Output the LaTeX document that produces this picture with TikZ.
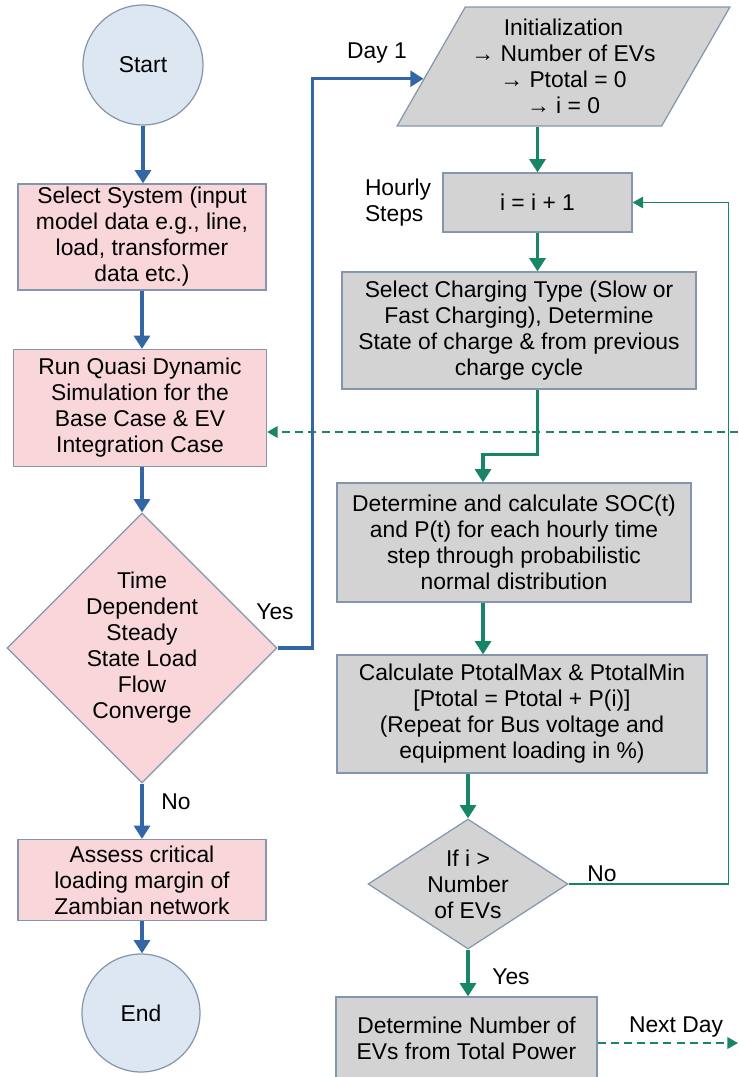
\documentclass[tikz,border=0pt]{standalone}
\usepackage{fontspec}
\setmainfont{Liberation Sans}
\usetikzlibrary{shapes.geometric,arrows.meta}
\definecolor{pinkfill}{HTML}{F8D6DA}
\definecolor{greyfill}{HTML}{D3D3D3}
\definecolor{circfill}{HTML}{DDE7F2}
\definecolor{edgecol}{HTML}{8496AE}
\definecolor{blueline}{HTML}{3465A4}
\definecolor{greenline}{HTML}{188566}

\begin{document}
\begin{tikzpicture}[x=0.02cm,y=-0.02cm,
   font=\fontsize{13}{14.8}\selectfont,
   base/.style={draw=edgecol,line width=0.7pt,align=center,inner sep=0pt},
   pbox/.style={base,rectangle,fill=pinkfill},
   gbox/.style={base,rectangle,fill=greyfill},
   circ/.style={base,circle,fill=circfill},
   pdia/.style={base,diamond,fill=pinkfill},
   gdia/.style={base,diamond,fill=greyfill},
   barr/.style={draw=blueline,line width=1.9pt,-{Triangle[width=9pt,length=7.5pt]}},
   garr/.style={draw=greenline,line width=1.9pt,-{Triangle[width=9pt,length=7.5pt]}},
   gthin/.style={draw=greenline,line width=1pt,-{Triangle[width=6.5pt,length=6pt]}},
   gdash/.style={draw=greenline,line width=1.1pt,dash pattern=on 4.5pt off 3pt,-{Triangle[width=6.5pt,length=6pt]}}]
   \useasboundingbox (0,0) rectangle (738,1077);

   \path (143,65) node[circ,minimum size=2.4cm] (St) {Start};
   \path (142,237) node[pbox,minimum width=4.96cm,minimum height=2.12cm] (Sel)
   {Select System (input\\model data e.g., line,\\load, transformer\\data etc.)};
   \path (140,408) node[pbox,minimum width=5.06cm,minimum height=2.34cm] (Run)
   {Run Quasi Dynamic\\Simulation for the\\Base Case \& EV\\Integration Case};
   \path (142,648) node[pdia,minimum size=5.4cm] (Conv)
   {Time\\Dependent\\Steady\\State Load\\Flow\\Converge};
   \path (142,880) node[pbox,minimum width=4.96cm,minimum height=1.62cm] (Ass)
   {Assess critical\\loading margin of\\Zambian network};
   \path (141,1013) node[circ,minimum size=2.36cm] (En) {End};

   \path (563.5,66.5) node[base,trapezium,trapezium left angle=56,trapezium right angle=124,
     trapezium stretches,fill=greyfill,minimum width=6.66cm,minimum height=2.38cm] (Init)
   {Initialization\\→ Number of EVs\\→ Ptotal = 0\\→ i = 0};
   \path (537.5,202.5) node[gbox,minimum width=3.78cm,minimum height=1.18cm] (Inc) {i = i + 1};
   \path (519,330.5) node[gbox,minimum width=7.08cm,minimum height=2.34cm] (Chg)
   {Select Charging Type (Slow or\\Fast Charging), Determine\\State of charge \& from previous\\charge cycle};
   \path (514,542.5) node[gbox,minimum width=7.08cm,minimum height=2.38cm] (Soc)
   {Determine and calculate SOC(t)\\and P(t) for each hourly time\\step through probabilistic\\normal distribution};
   \path (522,714) node[gbox,minimum width=7.4cm,minimum height=2.36cm] (Calc)
   {Calculate PtotalMax \& PtotalMin\\{[Ptotal = Ptotal + P(i)]}\\(Repeat for Bus voltage and\\equipment loading in \%)};
   \path (468,884) node[gdia,aspect=1.54,minimum width=4cm,minimum height=2.6cm] (Chk)
   {If i >\\Number\\of EVs};
   \path (466.5,1038) node[gbox,minimum width=5.22cm,minimum height=1.64cm] (Num)
   {Determine Number of\\EVs from Total Power};

   \path (377,53) node (D1) {Day 1};
   \path (398,203) node[align=left] (Hs) {Hourly\\Steps};
   \path (275,612) node (Y1) {Yes};
   \path (176,802) node (N1) {No};
   \path (602,874) node (N2) {No};
   \path (511,977) node (Y2) {Yes};
   \path (676,1027) node (Nd) {Next Day};
   \coordinate (Pin) at (738,432);
   \coordinate (Pout) at (738,1043);

   \draw[gdash] (Pin) -- (Pin -| Run.east);
   \draw[gdash] (Num.east |- Pout) -- (Pout);

   \draw[barr] (St.south) -- (St.south |- Sel.north);
   \draw[barr] (Sel.south) -- (Sel.south |- Run.north);
   \draw[barr] (Conv.north |- Run.south) -- (Conv.north);
   \draw[barr] (Conv.south) -- (Conv.south |- Ass.north);
   \draw[barr] (Ass.south) -- (Ass.south |- En.north);
   \draw[barr] (Conv.east) -- ++(35,0) |- (Init.185);

   \draw[garr] (Init.south -| Inc) -- (Inc.north);
   \draw[garr] (Inc.south) -- (Inc.south |- Chg.north);
   \draw[garr] (Inc.south |- Chg.south) -- ++(0,65) -| ([xshift=-0.62cm]Soc.north);
   \draw[garr] ([xshift=-0.62cm]Soc.south) -- ([xshift=-0.62cm]Soc.south |- Calc.north);
   \draw[garr] (Chk.north |- Calc.south) -- (Chk.north);
   \draw[garr] (Chk.south) -- (Chk.south |- Num.north);
   \draw[gthin] (Chk.east) -- ++(160,0) |- (Inc.east);
\end{tikzpicture}
\end{document}
